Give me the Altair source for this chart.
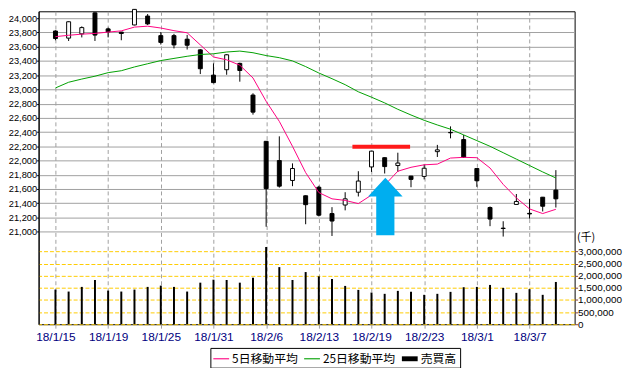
import altair as alt
import pandas as pd

# ---------------- data ----------------
dates = ["18/1/15", "18/1/16", "18/1/17", "18/1/18", "18/1/19", "18/1/22", "18/1/23",
         "18/1/24", "18/1/25", "18/1/26", "18/1/29", "18/1/30", "18/1/31", "18/2/1",
         "18/2/2", "18/2/5", "18/2/6", "18/2/7", "18/2/8", "18/2/9", "18/2/13",
         "18/2/14", "18/2/15", "18/2/16", "18/2/19", "18/2/20", "18/2/21", "18/2/22",
         "18/2/23", "18/2/26", "18/2/27", "18/2/28", "18/3/1", "18/3/2", "18/3/5",
         "18/3/6", "18/3/7", "18/3/8", "18/3/9"]

open_ = [23820, 23720, 23780, 24075, 23850, 23805, 23905, 24030, 23755, 23755,
         23705, 23555, 23200, 23276, 23365, 22920, 22270, 22000, 21720, 21505,
         21625, 21255, 21375, 21555, 21910, 22040, 21930, 21781, 21777, 22125,
         22395, 22295, 21888, 21340, 21050, 21383, 21258, 21485, 21585]
high = [23830, 23955, 23885, 24084, 23868, 23808, 24129, 24058, 23805, 23780,
        23765, 23565, 23365, 23495, 23375, 22945, 22272, 22340, 21960, 21510,
        21645, 21345, 21555, 21850, 22135, 22045, 22110, 21785, 21945, 22220,
        22480, 22360, 21890, 21355, 21147, 21530, 21460, 21488, 21865]
low = [23690, 23680, 23730, 23680, 23730, 23690, 23900, 23905, 23630, 23575,
       23560, 23215, 23085, 23205, 23108, 22645, 21070, 21620, 21640, 21105,
       21215, 20940, 21300, 21495, 21840, 21818, 21840, 21625, 21735, 22050,
       22312, 22040, 21630, 21078, 20932, 21380, 21185, 21285, 21340]
close = [23715, 23950, 23868, 23763, 23808, 23785, 24124, 23920, 23660, 23625,
         23620, 23290, 23095, 23486, 23265, 22680, 21605, 21640, 21888, 21380,
         21232, 21150, 21462, 21712, 22132, 21915, 21965, 21735, 21892, 22150,
         22390, 22045, 21716, 21178, 21045, 21425, 21250, 21358, 21462]

ma5 = [23741, 23760, 23776, 23786, 23805, 23822, 23875, 23888, 23862, 23825,
       23795, 23625, 23455, 23415, 23340, 23160, 22832, 22550, 22200, 21830,
       21550, 21462, 21440, 21395, 21515, 21655, 21850, 21905, 21940, 21950,
       22035, 22045, 22040, 21895, 21665, 21475, 21320, 21255, 21315]
ma25 = [23020, 23100, 23145, 23185, 23235, 23262, 23315, 23360, 23405, 23435,
        23465, 23490, 23500, 23525, 23538, 23515, 23475, 23445, 23400, 23320,
        23230, 23150, 23066, 22966, 22890, 22810, 22720, 22640, 22565, 22500,
        22440, 22360, 22280, 22200, 22110, 22020, 21930, 21840, 21755]

volume = [1430000, 1349000, 1541000, 1827000, 1389000, 1349000, 1430000, 1541000,
          1594000, 1541000, 1349000, 1716000, 1839000, 1827000, 1716000, 1921000,
          3188000, 2358000, 1827000, 2154000, 1978000, 1868000, 1582000, 1418000,
          1308000, 1255000, 1377000, 1336000, 1214000, 1255000, 1336000, 1528000,
          1541000, 1622000, 1500000, 1295000, 1447000, 1214000, 1745000]

price_ticks = list(range(21000, 24001, 200))
volume_ticks = [0, 500000, 1000000, 1500000, 2000000, 2500000, 3000000]
date_tick_index = [0, 4, 8, 12, 16, 20, 24, 28, 32, 36]

series_names = ["5日移動平均", "25日移動平均", "売買高"]
series_colors = ["#FF0080", "#00A000", "#000000"]

# annotations: red resistance bar and blue arrow (index / price units)
resist_x = [22.55]
resist_x2 = [26.93]
resist_y = [22195]
arrow_x = [25.05]
arrow_y = [21353]

# ---------------- chart ----------------
df = pd.DataFrame({
    "i": list(range(len(dates))), "date": dates,
    "open": open_, "high": high, "low": low, "close": close,
    "ma5": ma5, "ma25": ma25, "vol": volume,
})
resist_df = pd.DataFrame({"x": resist_x, "x2": resist_x2, "y": resist_y})
arrow_df = pd.DataFrame({"x": arrow_x, "y": arrow_y})

NUM_FONT = "Liberation Sans, Arial, sans-serif"
CJK_FONT = "Noto Sans CJK JP, sans-serif"

x_scale = alt.Scale(domain=[-0.905, 39.05], nice=False, zero=False)
p_scale = alt.Scale(domain=[19700, 24097], nice=False, zero=False)
v_scale = alt.Scale(domain=[0, 12920000], nice=False, zero=False)

label_js = "[" + ",".join("'" + d + "'" for d in dates) + "]"
x_axis = alt.Axis(values=date_tick_index, labelExpr=label_js + "[datum.value]",
                  grid=True, gridColor="#A0A0A0", gridDash=[4, 3], gridWidth=1,
                  tickColor="#A0A0A0", tickSize=4, domain=False,
                  labelColor="#000080", labelFont=NUM_FONT, labelFontSize=12,
                  labelPadding=3, labelOverlap=False, labelFlush=False, title=None)

price_axis = alt.Axis(orient="left", values=price_ticks, format=",.0f",
                      grid=True, gridColor="#A0A0A0", gridWidth=1,
                      domain=True, domainColor="black", tickColor="black",
                      tickSize=2, labelPadding=0, labelFont=NUM_FONT,
                      labelFontSize=9.4, labelColor="black", labelOverlap=False,
                      title=None)

vol_axis = alt.Axis(orient="right", values=volume_ticks, format=",.0f",
                    grid=True, gridColor="#FFCC00", gridDash=[4, 2], gridWidth=1,
                    domain=False, tickColor="#804040", tickSize=3, labelPadding=0,
                    labelFont=NUM_FONT, labelFontSize=10, labelColor="black",
                    labelOverlap=False,
                    title="(千)", titleAngle=0, titleAlign="left",
                    titleBaseline="middle", titleX=2, titleY=229,
                    titleFont=CJK_FONT, titleFontSize=11, titleFontWeight="normal",
                    titleColor="black")

X = alt.X("i:Q", scale=x_scale, axis=x_axis)

wicks = alt.Chart(df).mark_rule(color="black", strokeWidth=1).encode(
    x=X, y=alt.Y("low:Q", scale=p_scale, axis=price_axis), y2="high:Q")

bodies = alt.Chart(df).mark_bar(size=4, stroke="black", strokeWidth=1).encode(
    x=X, y=alt.Y("open:Q", scale=p_scale, axis=price_axis), y2="close:Q",
    fill=alt.condition("datum.open > datum.close", alt.value("black"), alt.value("white")))

line5 = alt.Chart(df).mark_line(color=series_colors[0], strokeWidth=1).encode(
    x=X, y=alt.Y("ma5:Q", scale=p_scale, axis=price_axis))
line25 = alt.Chart(df).mark_line(color=series_colors[1], strokeWidth=1).encode(
    x=X, y=alt.Y("ma25:Q", scale=p_scale, axis=price_axis))

resist = alt.Chart(resist_df).mark_rule(color="#FF1A1A", strokeWidth=4).encode(
    x=alt.X("x:Q", scale=x_scale, axis=x_axis), x2="x2:Q",
    y=alt.Y("y:Q", scale=p_scale, axis=price_axis))

ARROW = "M0,-1 L0.6,-0.348 L0.316,-0.348 L0.316,1 L-0.316,1 L-0.316,-0.348 L-0.6,-0.348 Z"
arrow = alt.Chart(arrow_df).mark_point(shape=ARROW, size=3399, filled=True,
                                       fill="#00AEEF", strokeWidth=0, opacity=1).encode(
    x=alt.X("x:Q", scale=x_scale, axis=x_axis),
    y=alt.Y("y:Q", scale=p_scale, axis=price_axis))

price = alt.layer(wicks, bodies, line5, line25, resist, arrow)

vol = alt.Chart(df).mark_rule(color="black", strokeWidth=2).encode(
    x=X, y=alt.Y("vol:Q", scale=v_scale, axis=vol_axis), y2=alt.datum(0))

PAD = "\u3000" * 3
legend = alt.Legend(title=None, orient="none", legendX=174, legendY=341,
                    direction="horizontal",
                    strokeColor="black", padding=3, fillColor="white",
                    labelFont=CJK_FONT, labelFontSize=12, labelColor="black",
                    labelExpr="datum.label == '売買高' ? '売買高" + PAD + "' : datum.label",
                    symbolSize=256, symbolStrokeWidth=0, symbolOpacity=1,
                    columnPadding=6, labelOffset=3)
LINE_SYM = "M-1,-0.07 H1 V0.07 H-1 Z"
RECT_SYM = "M-1,-0.31 H1 V0.31 H-1 Z"
dummy = alt.Chart(alt.Data(values=[])).mark_point(filled=True, opacity=1).encode(
    color=alt.Color("s:N", scale=alt.Scale(domain=series_names, range=series_colors),
                    legend=legend),
    shape=alt.Shape("s:N", scale=alt.Scale(domain=series_names,
                                           range=[LINE_SYM, LINE_SYM, RECT_SYM]),
                    legend=legend))

chart = alt.layer(price, vol, dummy).resolve_scale(y="independent").properties(
    width=543, height=317,
    padding={"left": 31, "top": 1, "right": 49, "bottom": 42},
    autosize=alt.AutoSizeParams(type="none"),
    background="white",
).configure_view(stroke="black", strokeWidth=1)

chart.save("out.html", embed_options={"renderer": "svg", "actions": False})
